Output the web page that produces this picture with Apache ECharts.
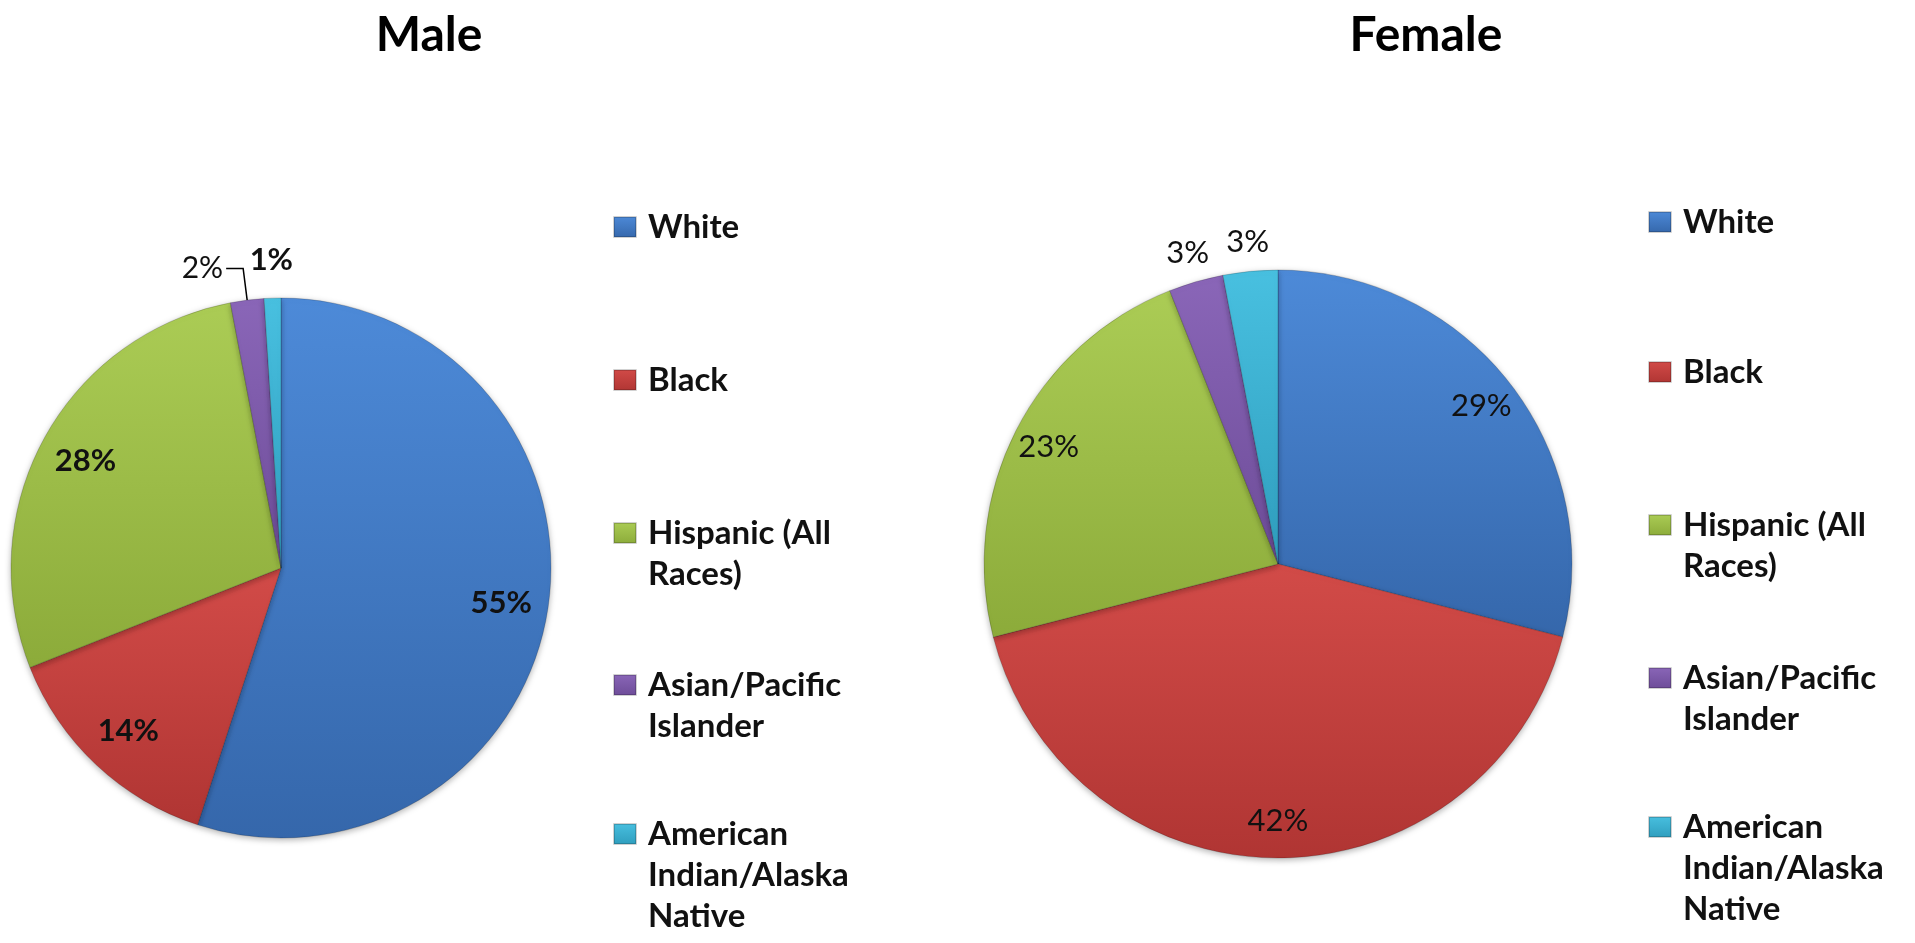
<!DOCTYPE html>
<html>
<head>
<meta charset="utf-8">
<title>Male / Female</title>
<script src="https://cdn.jsdelivr.net/npm/echarts@6/dist/echarts.min.js"></script>
<style>
html, body { margin: 0; padding: 0; background: #fff; }
#main { width: 1915px; height: 943px; }
</style>
</head>
<body>
<div id="main"></div>
<script>
// data
var categories = ['White', 'Black', 'Hispanic (All Races)', 'Asian/Pacific Islander', 'American Indian/Alaska Native'];
var legendText = ['White', 'Black', 'Hispanic (All\nRaces)', 'Asian/Pacific\nIslander', 'American\nIndian/Alaska\nNative'];
var maleValues = [55, 14, 28, 2, 1];
var femaleValues = [29, 42, 23, 3, 3];
var chartTitles = ['Male', 'Female'];

// slice colours (light top -> dark bottom)
var colorsTop = ['#4d8ad8', '#d24b48', '#abcc55', '#8a66b8', '#48c0e0'];
var colorsBottom = ['#3567ab', '#b03533', '#8cab3a', '#6d4c98', '#2f9dbd'];

var FONT = 'Lato';
var LH = 41;   // legend line height

var myChart = echarts.init(document.getElementById('main'));

function sliceStyle(i) {
    return {
        color: new echarts.graphic.LinearGradient(0, 0, 0, 1, [
            {offset: 0, color: colorsTop[i]},
            {offset: 1, color: colorsBottom[i]}
        ]),
        borderColor: 'rgba(0,0,0,0.18)',
        borderWidth: 1,
        shadowBlur: 6,
        shadowOffsetY: 2,
        shadowColor: 'rgba(0,0,0,0.3)'
    };
}

// visible pie, only the leader-line label is drawn here
function piePart(values, center, r, leaderIdx) {
    var data = values.map(function (v, i) {
        var item = {name: categories[i], value: v, itemStyle: sliceStyle(i)};
        if (i === leaderIdx) {
            item.label = {show: true};
            item.labelLine = {show: true};
        } else {
            item.label = {show: false};
            item.labelLine = {show: false};
        }
        return item;
    });
    return {
        type: 'pie',
        center: center,
        radius: r,
        silent: true,
        avoidLabelOverlap: false,
        label: {
            position: 'outside',
            formatter: '{c}%',
            fontFamily: FONT,
            fontSize: 30,
            color: '#111',
            distanceToLabelLine: 3
        },
        labelLine: {length: 32, length2: 17, lineStyle: {color: '#000', width: 1.5}},
        data: data
    };
}

// transparent pie used only to place percentage labels
function labelPart(values, center, r, test, weight) {
    var data = values.map(function (v, i) {
        return {
            value: v,
            itemStyle: {color: 'rgba(0,0,0,0)'},
            label: {show: test(v, i)}
        };
    });
    return {
        type: 'pie',
        center: center,
        radius: [0, r],
        silent: true,
        z: 5,
        label: {
            position: 'inside',
            formatter: '{c}%',
            fontFamily: FONT,
            fontSize: 31,
            fontWeight: weight,
            color: '#111'
        },
        labelLine: {show: false},
        data: data
    };
}

// one legend per entry so the first line of every entry sits on its own row
function makeLegends(left, centers) {
    return categories.map(function (n, i) {
        var lines = legendText[i].split('\n').length;
        var pad = new Array(lines).join('\n');
        return {
            data: [n],
            orient: 'vertical',
            left: left,
            top: centers[i] - (2 * lines - 1) * LH / 2,
            padding: 0,
            icon: 'rect',
            itemWidth: 22,
            itemHeight: 20,
            selectedMode: false,
            formatter: function () { return pad + legendText[i]; },
            textStyle: {
                fontFamily: FONT,
                fontSize: 33,
                fontWeight: 'bold',
                color: '#111',
                lineHeight: LH,
                padding: [0, 0, 0, 7]
            }
        };
    });
}

var maleCenter = [281, 568], maleR = 270;
var femaleCenter = [1278, 564], femaleR = 294;

option = {
    backgroundColor: '#fff',
    animation: false,
    title: [{
        text: chartTitles[0],
        left: 424,
        top: 7,
        textAlign: 'center',
        textStyle: {fontFamily: FONT, fontSize: 48, fontWeight: 'bold', color: '#000'}
    }, {
        text: chartTitles[1],
        left: 1421,
        top: 7,
        textAlign: 'center',
        textStyle: {fontFamily: FONT, fontSize: 48, fontWeight: 'bold', color: '#000'}
    }],
    legend: makeLegends(613, [227, 380, 533, 685, 834])
        .concat(makeLegends(1648, [222, 372, 525, 678, 827])),
    series: [
        piePart(maleValues, maleCenter, maleR, 3),
        piePart(femaleValues, femaleCenter, femaleR, -1),
        labelPart(maleValues, maleCenter, maleR * 1.63, function (v) { return v >= 10; }, 'bold'),
        labelPart(maleValues, maleCenter, maleR * 2.26, function (v, i) { return i === 4; }, 'bold'),
        labelPart(femaleValues, femaleCenter, femaleR * 1.73, function (v) { return v >= 10; }, 'normal'),
        labelPart(femaleValues, femaleCenter, femaleR * 2.18, function (v) { return v < 10; }, 'normal')
    ]
};

if (option && typeof option === "object") {
    myChart.setOption(option, true);
}
</script>
</body>
</html>
